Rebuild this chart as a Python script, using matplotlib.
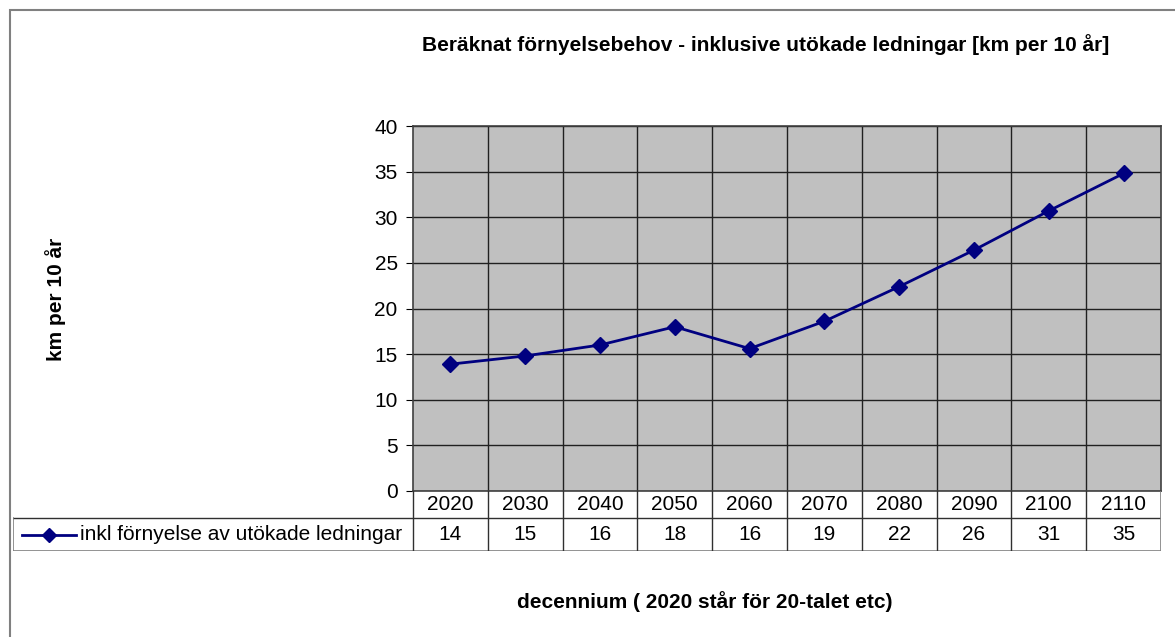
import matplotlib.pyplot as plt
from matplotlib.lines import Line2D
from matplotlib.patches import Rectangle

decades = ["2020", "2030", "2040", "2050", "2060", "2070", "2080", "2090", "2100", "2110"]
km_per_decade = [13.9, 14.8, 16.0, 18.0, 15.6, 18.6, 22.4, 26.4, 30.7, 34.8]
series_name = "inkl förnyelse av utökade ledningar"
title = "Beräknat förnyelsebehov - inklusive utökade ledningar [km per 10 år]"
y_label = "km per 10 år"
x_label = "decennium ( 2020 står för 20-talet etc)"

W, H = 1175, 637
NAVY = "#000080"
FS = 15
plt.rcParams["font.family"] = ["Liberation Sans", "DejaVu Sans"]


def fig_box(x0, y0, x1, y1):
    # pixel box (top-left origin) -> figure fraction [left, bottom, width, height]
    return [x0 / W, 1 - y1 / H, (x1 - x0) / W, (y1 - y0) / H]


fig = plt.figure(figsize=(W / 100, H / 100), dpi=100)

# outer chart frame
fig.patches.append(Rectangle((10 / W, -0.05), 1.1, 1 - 10 / H + 0.05, transform=fig.transFigure,
                             fill=False, edgecolor="#808080", lw=1.5))

# plot area
ax = fig.add_axes(fig_box(413, 126, 1161, 491))
n = len(decades)
xs = range(n)
ax.set_facecolor("#C0C0C0")
ax.plot(xs, km_per_decade, color=NAVY, lw=2, marker="D", markersize=8, zorder=3)
ax.set_xlim(-0.5, n - 0.5)
ax.set_ylim(0, 40)
ax.set_yticks(range(0, 41, 5))
ax.tick_params(axis="y", labelsize=FS, length=5, direction="out", pad=6)
ax.set_xticks([i - 0.5 for i in range(1, n)])
ax.tick_params(axis="x", length=0, labelbottom=False)
ax.grid(True, color="#202020", lw=1)
for s in ax.spines.values():
    s.set_color("#404040")
    s.set_linewidth(1.2)

# data table below the plot
tax = fig.add_axes(fig_box(13, 491, 1161, 551))
tax.set_xlim(13, 1161)
tax.set_ylim(551, 491)
tax.axis("off")
col_w = (1161 - 413) / n
line_kw = dict(color="#303030", lw=1)
tax.plot([13, 1161], [518, 518], **line_kw)
tax.plot([13, 1161], [551, 551], color="#808080", lw=1.2)
tax.plot([13, 13], [518, 551], color="#808080", lw=1.2)
tax.plot([1161, 1161], [491, 551], color="#808080", lw=1.2)
tax.plot([413, 413], [491, 551], **line_kw)
for i in range(n):
    left = 413 + i * col_w
    if i > 0:
        tax.plot([left, left], [491, 551], **line_kw)
    cx = left + col_w / 2
    tax.text(cx, 505, decades[i], ha="center", va="center", fontsize=FS)
    tax.text(cx, 535, f"{km_per_decade[i]:.0f}", ha="center", va="center", fontsize=FS)

tax.add_line(Line2D([22, 76], [535, 535], color=NAVY, lw=2))
tax.plot([49], [535], marker="D", color=NAVY, markersize=7)
tax.text(80, 535, series_name, ha="left", va="center", fontsize=FS)

fig.text(766 / W, 1 - 45 / H, title, ha="center", va="center", fontsize=FS, fontweight="bold")
fig.text(56 / W, 1 - 299 / H, y_label, ha="center", va="center", rotation=90,
         fontsize=FS, fontweight="bold")
fig.text(705 / W, 1 - 602 / H, x_label, ha="center", va="center", fontsize=FS, fontweight="bold")

fig.savefig("out.png", dpi=100)
